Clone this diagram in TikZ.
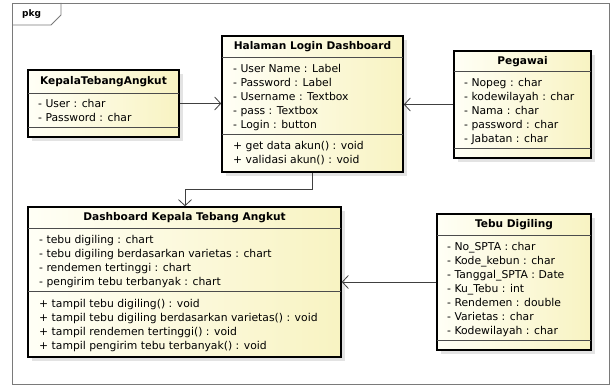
\documentclass[tikz,border=0pt]{standalone}
\usepackage{fontspec}
\setmainfont{DejaVu Sans}
\usetikzlibrary{arrows.meta,shadows}
\definecolor{umlpale}{HTML}{FFFFF6}
\definecolor{umlyellow}{HTML}{F8F3C2}
\definecolor{framegray}{HTML}{7A7A7A}
\tikzset{
  classbox/.style={draw=black,line width=1.6pt,inner sep=0pt,
    left color=umlpale,right color=umlyellow,
    drop shadow={shadow xshift=4pt,shadow yshift=-4pt,fill=black!22}},
  classname/.style={font=\fontsize{10.6}{12}\selectfont\bfseries,inner sep=0pt},
  members/.style={font=\fontsize{10.8}{14}\selectfont,align=left,anchor=north west,inner sep=0pt},
  sepline/.style={draw=black!70,line width=0.8pt},
  assoc/.style={draw=black!75,line width=0.8pt,-{Straight Barb[length=6pt,width=13pt]}},
}
\begin{document}
\begin{tikzpicture}[x=1pt,y=-1pt]
\useasboundingbox (0,0) rectangle (614,385);
% package frame
\draw[framegray,line width=0.8pt] (12,3) rectangle (609,384);
\draw[framegray,line width=0.8pt] (61,3) -- (61,15) -- (51,25) -- (12,25);
\path (22,14) node[anchor=west,font=\fontsize{9}{10}\selectfont\bfseries,inner sep=0pt] (pkg) {pkg};
% classes
\path (103.5,103.5) node[classbox,minimum width=151pt,minimum height=67pt] (kta) {};
\path (312.5,104) node[classbox,minimum width=181pt,minimum height=136pt] (login) {};
\path (522.5,104.5) node[classbox,minimum width=137pt,minimum height=107pt] (pegawai) {};
\path (184.5,282) node[classbox,minimum width=313pt,minimum height=150pt] (dash) {};
\path (514,282) node[classbox,minimum width=154pt,minimum height=136pt] (tebu) {};
% compartments
\draw[sepline] (28,93) -- (179,93) (28,127) -- (179,127);
\draw[sepline] (222,57) -- (403,57) (222,134) -- (403,134);
\draw[sepline] (454,71) -- (591,71) (454,148) -- (591,148);
\draw[sepline] (28,228) -- (341,228) (28,291) -- (341,291);
\draw[sepline] (437,235) -- (591,235) (437,340) -- (591,340);
% names
\path (103.5,82) node[classname] (ktaname) {KepalaTebangAngkut};
\path (312.5,47) node[classname] (loginname) {Halaman Login Dashboard};
\path (522.5,62) node[classname] (pegawainame) {Pegawai};
\path (184.5,218) node[classname] (dashname) {Dashboard Kepala Tebang Angkut};
\path (514,225) node[classname] (tebuname) {Tebu Digiling};
% attributes and operations
\path (38,99) node[members] (ktaattr) {- User : char\\- Password : char};
\path (233,64) node[members] (loginattr) {- User Name : Label\\- Password : Label\\- Username : Textbox\\- pass : Textbox\\- Login : button};
\path (233,141.5) node[members] (loginops) {+ get data akun() : void\\+ validasi akun() : void};
\path (464,78) node[members] (pegawaiattr) {- Nopeg : char\\- kodewilayah : char\\- Nama : char\\- password : char\\- Jabatan : char};
\path (39,235) node[members] (dashattr) {- tebu digiling : chart\\- tebu digiling berdasarkan varietas : chart\\- rendemen tertinggi : chart\\- pengirim tebu terbanyak : chart};
\path (39,299) node[members] (dashops) {+ tampil tebu digiling() : void\\+ tampil tebu digiling berdasarkan varietas() : void\\+ tampil rendemen tertinggi() : void\\+ tampil pengirim tebu terbanyak() : void};
\path (447,242) node[members] (tebuattr) {- No\_SPTA : char\\- Kode\_kebun : char\\- Tanggal\_SPTA : Date\\- Ku\_Tebu : int\\- Rendemen : double\\- Varietas : char\\- Kodewilayah : char};
% associations
\coordinate (bend) at (185,189);
\draw[assoc] (kta.east) -- (kta.east -| login.west);
\draw[assoc] (pegawai.west) -- (pegawai.west -| login.east);
\draw[assoc] (login.south) |- (bend) -- (bend |- dash.north);
\draw[assoc] (tebu.west) -- (tebu.west -| dash.east);
\end{tikzpicture}
\end{document}
